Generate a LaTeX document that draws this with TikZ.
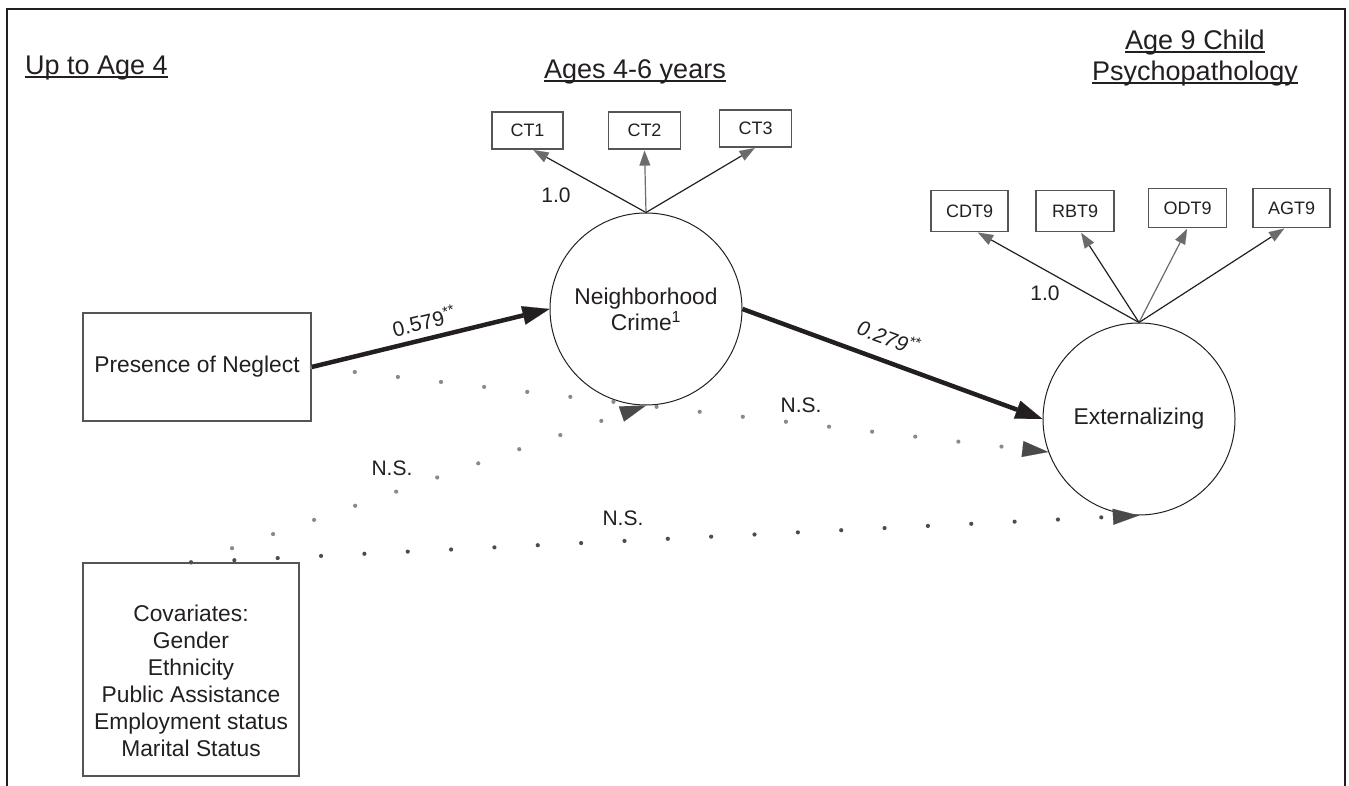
\documentclass[tikz,border=0pt]{standalone}
\usepackage{fontspec}
\setmainfont{Liberation Sans}
\usetikzlibrary{arrows.meta}
\definecolor{ink}{HTML}{231F20}
\definecolor{boxgray}{HTML}{555555}
\definecolor{dotgray}{HTML}{8A8A8A}
\definecolor{dotdark}{HTML}{4D4D4D}
\definecolor{tipgray}{HTML}{4A4A4A}
\definecolor{indgray}{HTML}{6B6B6B}
\newlength\ulw
\newcommand{\myul}[1]{\settowidth{\ulw}{#1}\rlap{\rule[-3.5pt]{\ulw}{2.3pt}}#1}
\begin{document}
\begin{tikzpicture}[x=1pt,y=-1pt,
  every node/.style={text=ink},
  titletext/.style={inner sep=0pt, font=\fontsize{27}{32}\selectfont},
  bodyfont/.style={font=\fontsize{22.8}{27}\selectfont},
  lbl/.style={inner sep=0pt, font=\fontsize{21}{25}\selectfont},
  mbox/.style={draw=boxgray, line width=1.3pt, inner sep=0pt, font=\fontsize{22.8}{27}\selectfont},
  ibox/.style={draw=boxgray, line width=1.2pt, inner sep=0pt, font=\fontsize{18}{22}\selectfont},
  latent/.style={draw=ink, circle, line width=1pt, minimum size=192pt, inner sep=0pt, align=center, font=\fontsize{22.8}{26}\selectfont},
  ind/.style={draw=ink, line width=1.2pt, shorten >=1pt, -{Triangle[length=15pt,width=11pt,line width=0.1pt,color=indgray]}},
  indg/.style={ind, draw=indgray},
  effect/.style={draw=ink, line width=4.5pt, -{Triangle[length=27pt,width=19pt,line width=0.1pt,color=ink]}},
  dotline/.style={draw=dotgray, line width=4.2pt, line cap=round, dash pattern=on 0pt off 43.4pt, -{Triangle[length=26pt,width=16pt,line width=0.1pt,color=tipgray]}},
  dotlinedark/.style={dotline, draw=dotdark},
]
\useasboundingbox (0,0) rectangle (1349,786);
\draw[line width=2.4pt, ink] (7,786) -- (7,9) -- (1345,9) -- (1345,786);

% titles
\node[titletext, anchor=base west] (t1) at (25,75) {\myul{Up to Age 4}};
\node[titletext, anchor=base] (t2) at (635,79) {\myul{Ages 4-6 years}};
\node[titletext, anchor=base] (t3) at (1195,50) {\myul{Age 9 Child}};
\node[titletext, anchor=base] (t4) at (1195,81) {\myul{Psychopathology}};

% main nodes
\node[mbox, minimum width=228pt, minimum height=108pt] (pn) at (197,367) {Presence of Neglect};
\node[mbox, minimum width=216pt, minimum height=213pt] (cov) at (191,669.5) {};
\node[bodyfont, align=center, inner sep=0pt] (covtxt) at (191,681) {Covariates:\\Gender\\Ethnicity\\Public Assistance\\Employment status\\Marital Status};
\node[latent] (nc) at (646,309) {Neighborhood\\Crime\textsuperscript{1}};
\node[latent] (ext) at (1139,419) {Externalizing};

% indicators
\node[ibox, minimum width=71pt, minimum height=37pt] (ct1) at (527.5,130.5) {CT1};
\node[ibox, minimum width=72pt, minimum height=37pt] (ct2) at (644.5,130.5) {CT2};
\node[ibox, minimum width=72pt, minimum height=37pt] (ct3) at (755.5,128.5) {CT3};
\node[ibox, minimum width=77pt, minimum height=41pt] (cdt) at (969.5,211) {CDT9};
\node[ibox, minimum width=78pt, minimum height=41pt] (rbt) at (1075,211) {RBT9};
\node[ibox, minimum width=78pt, minimum height=39pt] (odt) at (1187.5,208) {ODT9};
\node[ibox, minimum width=77pt, minimum height=39pt] (agt) at (1291.5,208) {AGT9};

\draw[ind] (nc.north) -- (ct1.-75);
\draw[indg] (nc.north) -- (ct2.south);
\draw[ind] (nc.north) -- (ct3.south);
\draw[ind] (ext.north) -- (cdt.-70);
\draw[ind] (ext.north) -- (rbt.-75);
\draw[indg] (ext.north) -- (odt.south);
\draw[ind] (ext.north) -- (agt.-108);

% dotted paths
\draw[dotline] (pn.east) -- (ext.200);
\draw[dotline] (cov.north) -- (nc.south);
\draw[dotlinedark] (cov.north) -- (ext.south);

% significant paths
\draw[effect] (pn.east) -- node[lbl, sloped, above=7pt, pos=0.49] (b1) {0.579\textsuperscript{**}} (nc.west);
\draw[effect] (nc.east) -- node[lbl, sloped, above=13pt, pos=0.46, font=\fontsize{21}{25}\selectfont\itshape] (b2) {0.279\textsuperscript{**}} (ext.west);

% labels
\node[lbl] (ns1) at (801,405) {N.S.};
\node[lbl] (ns2) at (392,468) {N.S.};
\node[lbl] (ns3) at (623,518) {N.S.};
\node[lbl] (w1) at (556,195) {1.0};
\node[lbl] (w2) at (1045,293) {1.0};
\end{tikzpicture}
\end{document}
